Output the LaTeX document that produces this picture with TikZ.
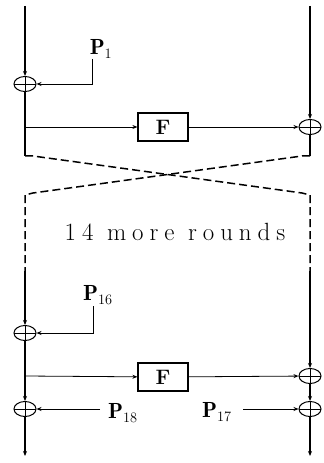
\documentclass[tikz,border=0pt]{standalone}
\usepackage{fontspec}
\newfontfamily\spacedfont[LetterSpace=24]{Latin Modern Roman}
\usetikzlibrary{shapes.geometric,arrows.meta}
\begin{document}
\begin{tikzpicture}[x=1bp,y=-1bp,
  main/.style={line width=1.5bp},
  thin/.style={line width=0.8bp},
  arr/.style={-{Stealth[length=5bp,width=4bp]}},
  xor/.style={ellipse,draw,line width=1bp,minimum width=22bp,minimum height=15bp,inner sep=0pt,
    path picture={\draw[line width=0.8bp] (path picture bounding box.north) -- (path picture bounding box.south)
      (path picture bounding box.west) -- (path picture bounding box.east);}},
  fbox/.style={draw,line width=1.2bp,minimum width=50bp,minimum height=28bp,inner sep=0pt,
    font=\bfseries\fontsize{21}{22}\selectfont},
  plab/.style={inner sep=0pt,font=\fontsize{22}{24}\selectfont},
  dsh/.style={dash pattern=on 8bp off 4bp}
]
\useasboundingbox (0,0) rectangle (323,463);
% top round
\coordinate (lt) at (25,6);
\coordinate (rt) at (310,6);
\node[xor] (x1) at (25,84) {};
\node[xor] (x2) at (310,127) {};
\node[fbox] (f1) at (163,127) {F};
\coordinate (b1) at (25,127);
\node[plab] (p1) at (101,49) {$\mathbf{P}_{1}$};
\coordinate (p1s) at (92,59);
% cross
\coordinate (lc) at (25,156);
\coordinate (lc2) at (33,156);
\coordinate (rc) at (310,156);
\coordinate (rc2) at (302,156);
\coordinate (ld) at (25,195);
\coordinate (ld2) at (33,193);
\coordinate (rd) at (310,195);
\coordinate (rd2) at (302,193);
\coordinate (le) at (25,271);
\coordinate (re) at (310,271);
\node[inner sep=0pt] (more) at (175,232) {\spacedfont\fontsize{25}{27}\selectfont 14 more rounds};
% last round
\node[xor] (x3) at (25,333) {};
\node[plab] (p16) at (98,295) {$\mathbf{P}_{16}$};
\coordinate (p16s) at (93,306);
\coordinate (b2) at (25,376);
\node[fbox] (f2) at (163,377) {F};
\node[xor] (x4) at (310,376) {};
\node[xor] (x5) at (25,409) {};
\node[xor] (x6) at (310,409) {};
\node[plab] (p18) at (123,413) {$\mathbf{P}_{18}$};
\node[plab] (p17) at (217,412) {$\mathbf{P}_{17}$};
\coordinate (p18s) at (100,409);
\coordinate (p17s) at (243,409);
\coordinate (lb) at (25,456);
\coordinate (rb) at (310,456);

% main lines
\draw[main,arr] (lt) -- (x1);
\draw[main] (x1) -- (lc);
\draw[main,arr] (rt) -- (x2);
\draw[main] (x2) -- (rc);
\draw[thin,arr] (b1) -- (f1);
\draw[thin,arr] (f1) -- (x2);
\draw[thin,arr] (p1s) |- (x1);
% cross
\draw[main,dsh] (lc) -- (lc2) -- (rd2) -- (rd) -- (re);
\draw[main,dsh] (rc) -- (rc2) -- (ld2) -- (ld) -- (le);
% bottom
\draw[main,arr] (le) -- (x3);
\draw[main] (x3) -- (b2);
\draw[main,arr] (b2) -- (x5);
\draw[main,arr] (x5) -- (lb);
\draw[main,arr] (re) -- (x4);
\draw[main,arr] (x4) -- (x6);
\draw[main,arr] (x6) -- (rb);
\draw[thin,arr] (p16s) |- (x3);
\draw[thin,arr] (b2) -- (f2);
\draw[thin,arr] (f2) -- (x4);
\draw[thin,arr] (p18s) -- (x5);
\draw[thin,arr] (p17s) -- (x6);
\end{tikzpicture}
\end{document}
